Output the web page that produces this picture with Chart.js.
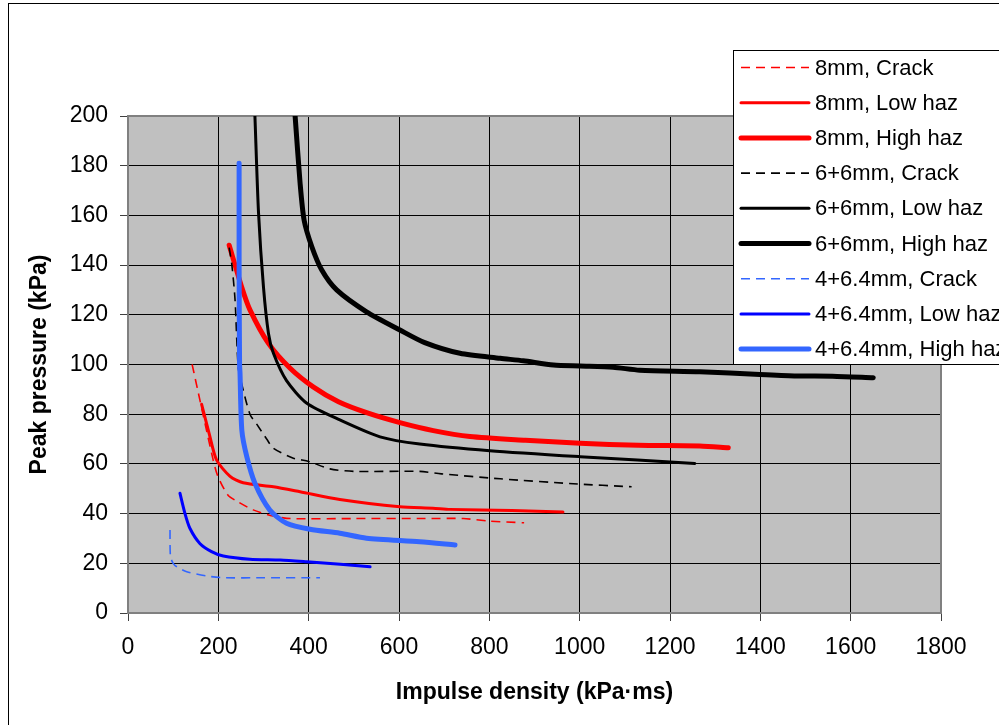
<!DOCTYPE html>
<html>
<head>
<meta charset="utf-8">
<script src="https://cdn.jsdelivr.net/npm/chart.js@4.4.1/dist/chart.umd.min.js"></script>
<style>
html,body{margin:0;padding:0;background:#fff;}
canvas{display:block;}
</style>
</head>
<body>
<canvas id="c" width="999" height="725"></canvas>
<script>
// ---- Data ----
const xTicks = [0,200,400,600,800,1000,1200,1400,1600,1800];
const yTicks = [0,20,40,60,80,100,120,140,160,180,200];

const mm8CrackX = [142,188,199,221,241,277,321,360,500,650,742,800,877];
const mm8CrackY = [100,62,55,47.5,45,41.5,39,38,38,38,38,37,36.3];

const mm8LowX = [163,180,196,226,255,322,381,469,602,675,713,850,963];
const mm8LowY = [84,72,61.6,55,52.4,50.8,48.8,45.7,42.8,42.2,41.7,41.2,40.6];

const mm8HighX = [224,252,270,311,359,410,466,530,602,676,757,880,1001,1130,1266,1329];
const mm8HighY = [148,131,122,108.5,98.5,91,85,80.5,76.6,73.4,71,69.5,68.3,67.5,67.2,66.5];

const mm66CrackX = [224,230,237,244,252,270,285,307,322,366,400,447,500,646,694,824,986,1115];
const mm66CrackY = [147,140,126,99,92,80,76,70,66.3,62.3,61,58,57,57,56,54,52,50.8];

const mm66LowX = [281,289,300,311,322,351,396,469,558,646,801,1001,1255];
const mm66LowY = [200,161,131,112.5,104.5,93.5,84.4,77.7,70.9,68,65.3,62.9,60.2];

const mm66HighX = [370,381,390,407,429,462,528,602,657,735,824,875,942,1001,1074,1133,1266,1399,1480,1560,1650];
const mm66HighY = [200,173,158,147.4,138,130,121.2,113.9,108.8,104.5,102.5,101.5,99.8,99.4,98.9,97.7,97.1,96,95.4,95.3,94.7];

const mm464CrackX = [93,94,100,108,130,174,211,300,425];
const mm464CrackY = [33.4,22.7,20,18.6,16.6,14.9,14.2,14.2,14.2];

const mm464LowX = [115,126,137,159,185,211,270,337,396,470,536];
const mm464LowY = [48.2,40.1,34.1,28,24.7,22.9,21.6,21.3,20.6,19.6,18.6];

const mm464HighX = [246,246,247,248,252,263,281,314,351,403,469,528,646,724];
const mm464HighY = [181,140,100,96.5,73.6,62.9,52.2,41.4,36.1,33.7,32.1,30.1,28.7,27.4];

const labels = ["8mm, Crack","8mm, Low haz","8mm, High haz","6+6mm, Crack","6+6mm, Low haz","6+6mm, High haz","4+6.4mm, Crack","4+6.4mm, Low haz","4+6.4mm, High haz"];

// ---- Build ----
function pts(xs, ys){ return xs.map((x,i)=>({x:x, y:ys[i]})); }
const seriesData = [
  pts(mm8CrackX, mm8CrackY), pts(mm8LowX, mm8LowY), pts(mm8HighX, mm8HighY),
  pts(mm66CrackX, mm66CrackY), pts(mm66LowX, mm66LowY), pts(mm66HighX, mm66HighY),
  pts(mm464CrackX, mm464CrackY), pts(mm464LowX, mm464LowY), pts(mm464HighX, mm464HighY)
];
const colors = ['#FF0000','#FF0000','#FF0000','#000000','#000000','#000000','#3366FF','#0000FF','#3366FF'];
const kinds = ['crack','low','high','crack','low','high','crack','low','high'];
const widthFor = {crack:1.6, low:3, high:5};
const DASH = [9,6];

const datasets = seriesData.map((d,i)=>({
  label: labels[i],
  data: d,
  showLine: true,
  borderColor: colors[i],
  backgroundColor: colors[i],
  borderWidth: widthFor[kinds[i]],
  borderDash: kinds[i]==='crack' ? DASH : [],
  borderCapStyle: kinds[i]==='crack' ? 'butt' : 'round',
  borderJoinStyle: 'round',
  pointRadius: 0,
  pointHoverRadius: 0,
  tension: 0.25,
  fill: false,
  order: 8 - i
}));

const FONT = 'Liberation Sans, Arial, sans-serif';

const bgPlugin = {
  id: 'bg',
  beforeDraw(chart){
    const {ctx, chartArea:a} = chart;
    ctx.save();
    ctx.fillStyle = '#fff';
    ctx.fillRect(0,0,chart.width,chart.height);
    ctx.fillStyle = '#C0C0C0';
    ctx.fillRect(a.left, a.top, a.right-a.left, a.bottom-a.top);
    ctx.restore();
  },
  beforeDatasetsDraw(chart){
    const {ctx, chartArea:a} = chart;
    ctx.save();
    ctx.strokeStyle = '#808080';
    ctx.lineWidth = 2;
    ctx.strokeRect(a.left, a.top, a.right-a.left, a.bottom-a.top);
    ctx.restore();
  },
  afterDraw(chart){
    const ctx = chart.ctx;
    ctx.save();
    // outer frame
    ctx.strokeStyle = '#000';
    ctx.lineWidth = 1;
    ctx.strokeRect(8.5, 3.5, 1200, 1000);
    // legend box
    const bx = 733.5, by = 50.5, bw = 400, bh = 314;
    ctx.fillStyle = '#fff';
    ctx.fillRect(bx, by, bw, bh);
    ctx.strokeStyle = '#000';
    ctx.strokeRect(bx, by, bw, bh);
    ctx.font = '22px ' + FONT;
    ctx.textBaseline = 'middle';
    ctx.textAlign = 'left';
    chart.data.datasets.forEach((ds,i)=>{
      const y = 67.5 + i*35.2;
      ctx.beginPath();
      ctx.strokeStyle = ds.borderColor;
      ctx.lineWidth = ds.borderWidth;
      ctx.setLineDash(ds.borderDash);
      ctx.lineCap = ds.borderDash.length ? 'butt' : 'round';
      ctx.moveTo(741, y);
      ctx.lineTo(809, y);
      ctx.stroke();
      ctx.setLineDash([]);
      ctx.fillStyle = '#000';
      ctx.fillText(ds.label, 815, y + 1);
    });
    ctx.restore();
  }
};

new Chart(document.getElementById('c'), {
  type: 'scatter',
  data: { datasets },
  options: {
    responsive: false,
    animation: false,
    layout: { padding: { left: 0, top: 116, right: 58, bottom: 0 } },
    plugins: { legend: { display: false }, tooltip: { enabled: false } },
    scales: {
      x: {
        type: 'linear',
        min: 0, max: 1800,
        afterBuildTicks(s){ s.ticks = xTicks.map(v=>({value:v})); },
        afterFit(s){ s.height = 112; },
        ticks: { color: '#000', font: { family: FONT, size: 23 }, padding: 13, maxRotation: 0,
                 callback: v => String(v) },
        grid: { color: '#000', lineWidth: 1, tickLength: 8, tickColor: '#404040' },
        border: { color: '#808080', width: 2 },
        title: { display: true, text: 'Impulse density (kPa\u00B7ms)', color: '#000',
                 font: { family: FONT, size: 23, weight: 'bold' }, padding: { top: 0, bottom: 19 } }
      },
      y: {
        type: 'linear',
        min: 0, max: 200,
        afterBuildTicks(s){ s.ticks = yTicks.map(v=>({value:v})); },
        afterFit(s){ s.width = 128; },
        ticks: { color: '#000', font: { family: FONT, size: 23 }, padding: 12,
                 callback: v => String(v) },
        grid: { color: '#000', lineWidth: 1, tickLength: 8, tickColor: '#404040' },
        border: { color: '#808080', width: 2 },
        title: { display: true, text: 'Peak pressure (kPa)', color: '#000',
                 font: { family: FONT, size: 23, weight: 'bold' }, padding: { top: 26, bottom: 0 } }
      }
    }
  },
  plugins: [bgPlugin]
});
</script>
</body>
</html>
